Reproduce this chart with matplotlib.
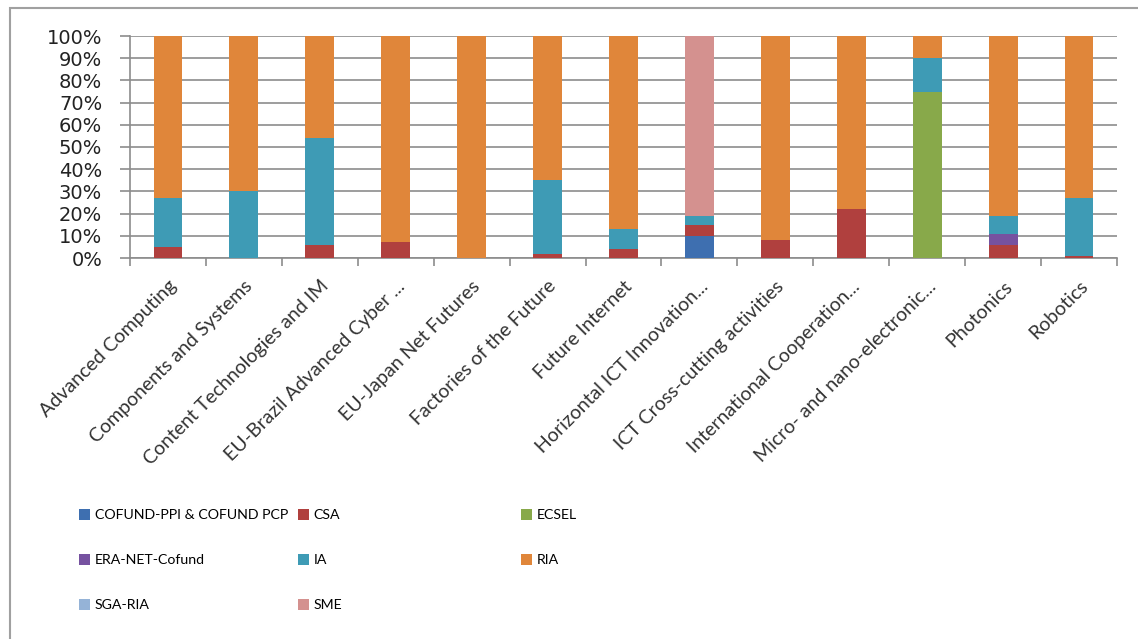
import numpy as np
import matplotlib.pyplot as plt
from matplotlib.patches import Rectangle, Patch
from matplotlib.ticker import PercentFormatter

# Dados (partes em %)
categorias = ['Advanced Computing', 'Components and Systems', 'Content Technologies and IM',
              'EU-Brazil Advanced Cyber ...', 'EU-Japan Net Futures', 'Factories of the Future',
              'Future Internet', 'Horizontal ICT Innovation...', 'ICT Cross-cutting activities',
              'International Cooperation...', 'Micro- and nano-electronic...', 'Photonics', 'Robotics']

cofund = [0, 0, 0, 0, 0, 0, 0, 10, 0, 0, 0, 0, 0]
csa = [5, 0, 6, 7, 0, 2, 4, 5, 8, 22, 0, 6, 1]
ecsel = [0, 0, 0, 0, 0, 0, 0, 0, 0, 0, 75, 0, 0]
era_net = [0, 0, 0, 0, 0, 0, 0, 0, 0, 0, 0, 5, 0]
ia = [22, 30, 48, 0, 0, 33, 9, 4, 0, 0, 15, 8, 26]
ria = [73, 70, 46, 93, 100, 65, 87, 0, 92, 78, 10, 81, 73]
sga_ria = [0, 0, 0, 0, 0, 0, 0, 0, 0, 0, 0, 0, 0]
sme = [0, 0, 0, 0, 0, 0, 0, 81, 0, 0, 0, 0, 0]

series = [('COFUND-PPI & COFUND PCP', cofund, '#3E6FB0'),
          ('CSA', csa, '#B0403E'),
          ('ECSEL', ecsel, '#88A94A'),
          ('ERA-NET-Cofund', era_net, '#7652A0'),
          ('IA', ia, '#3E9BB5'),
          ('RIA', ria, '#E0863A'),
          ('SGA-RIA', sga_ria, '#95B3D7'),
          ('SME', sme, '#D4918F')]

fonte = 'Lato'
fig = plt.figure(figsize=(11.38, 6.39), dpi=100)
ax = fig.add_axes([130 / 1138, 1 - 258 / 639, (1117 - 130) / 1138, (258 - 36) / 639])

x = np.arange(len(categorias))
base = np.zeros(len(categorias))
for nome, vals, cor in series:
    vals = np.array(vals, dtype=float)
    ax.bar(x, vals, 0.38, bottom=base, color=cor, zorder=3)
    base += vals

ax.set_xlim(-0.5, len(categorias) - 0.5)
ax.set_ylim(0, 100)
ax.set_yticks(np.arange(0, 101, 10))
ax.yaxis.set_major_formatter(PercentFormatter(decimals=0))
ax.grid(axis='y', color='#8c8c8c', linewidth=1.2, zorder=0)
ax.set_xticks(x)
ax.set_xticklabels(categorias, rotation=45, ha='right', rotation_mode='anchor',
                   fontsize=14, family=fonte, color='#333333')
ax.set_xticks(np.arange(-0.5, len(categorias)), minor=True)
ax.tick_params(axis='x', which='major', length=0, pad=14)
ax.tick_params(axis='x', which='minor', length=6, color='#8c8c8c', width=1.2)
ax.tick_params(axis='y', length=7, color='#8c8c8c', width=1.2, labelsize=14, pad=13)
for lab in ax.get_yticklabels():
    lab.set_family('DejaVu Sans')
    lab.set_color('#222222')
for s in ['top', 'right']:
    ax.spines[s].set_visible(False)
for s in ['left', 'bottom']:
    ax.spines[s].set_color('#8c8c8c')
    ax.spines[s].set_linewidth(1.2)

# Legenda em 3 colunas
colunas_x = [79, 298, 521]
linhas_y = [515, 560, 605]
for i, (nome, vals, cor) in enumerate(series):
    lin, col = divmod(i, 3)
    h = Patch(facecolor=cor, edgecolor='none')
    fig.legend([h], [nome], loc='center left',
               bbox_to_anchor=(colunas_x[col] / 1138, 1 - linhas_y[lin] / 639),
               frameon=False, prop={'family': fonte, 'size': 10.2},
               handlelength=0.8, handleheight=0.8, handletextpad=0.3,
               borderpad=0, borderaxespad=0)

# Moldura (so as bordas esquerda e superior aparecem)
fig.patches.append(Rectangle((10 / 1138, -0.05), 1.2, 1.05 - 8 / 639,
                             transform=fig.transFigure, fill=False,
                             edgecolor='#a0a0a0', linewidth=1.5))

fig.savefig('out.png', dpi=100)
